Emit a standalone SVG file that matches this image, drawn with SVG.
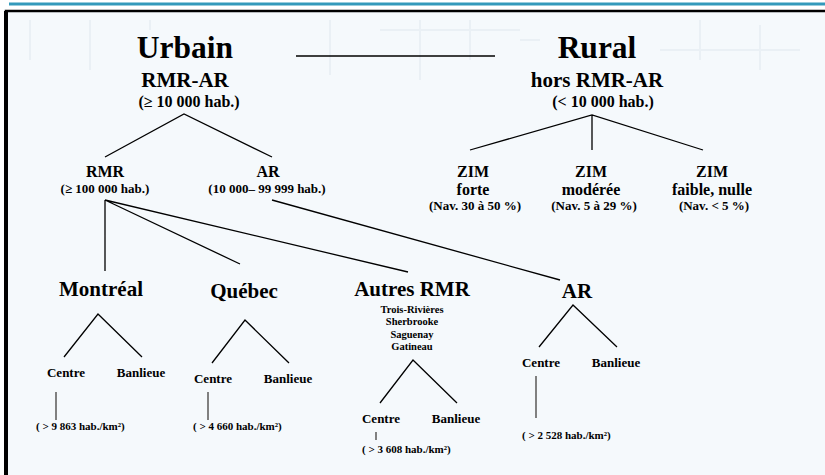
<svg xmlns="http://www.w3.org/2000/svg" width="825" height="475" viewBox="0 0 825 475">
<style>
text{font-family:"Liberation Serif","Times New Roman",serif;font-weight:bold;fill:#000;text-anchor:middle}
.t1{font-size:31.5px}
.t2{font-size:21px}
.t3{font-size:16px}
.t4{font-size:13px}
.t5{font-size:11px}
.t6{font-size:10.5px}
.st{text-anchor:start}
.ln{stroke:#000;stroke-width:1.3;fill:none}
.gr{stroke:#808080;stroke-width:2;fill:none}
</style>
<rect x="0" y="0" width="825" height="475" fill="#ffffff"/>
<rect x="6" y="11" width="819" height="464" fill="#f5f9fc"/>
<g id="bgdeco" stroke="#eaf0f5" stroke-width="2" fill="none">
<path d="M30 20 V60 M90 20 V70 M150 20 V30 M330 20 V75 M380 30 H520 M420 20 V80 M470 20 V60 M520 40 H540 M700 20 V60 M760 25 V70 M660 50 H800"/>
</g>
<line x1="9" y1="4" x2="825" y2="4" stroke="#3399bb" stroke-width="3"/>
<path d="M6 475 V11 H825" stroke="#000" stroke-width="2.5" fill="none"/>
<line x1="6" y1="11" x2="6" y2="475" stroke="#000" stroke-width="4"/>

<g id="connectors">
<line class="ln" x1="296" y1="56" x2="495" y2="56"/>
<path class="ln" d="M105 157 L184 114 L272 157"/>
<path class="ln" d="M470 150 L592 115 L703 150 M592 115 V150"/>
<path class="ln" d="M105 200 V271 M105 200 L240 264 M105 200 L408 272"/>
<line class="ln" x1="272" y1="200" x2="560" y2="280"/>
<path class="ln" d="M64 357 L98 314 L142 357"/>
<path class="ln" d="M212 363 L245 320 L289 363"/>
<path class="ln" d="M380 403 L413 360 L457 403"/>
<path class="ln" d="M539 347 L573 305 L617 347"/>
<line class="gr" x1="56" y1="392" x2="56" y2="420"/>
<line class="gr" x1="208" y1="392" x2="208" y2="420"/>
<line class="gr" x1="376" y1="432" x2="376" y2="440"/>
<line class="gr" x1="536" y1="376" x2="536" y2="418"/>
</g>

<g id="urbain">
<text class="t1" x="185" y="58">Urbain</text>
<text class="t2" x="185" y="87">RMR-AR</text>
<text class="t3" x="189" y="107">(≥ 10 000 hab.)</text>
</g>
<g id="rural">
<text class="t1" x="597" y="58">Rural</text>
<text class="t2" x="597" y="87">hors RMR-AR</text>
<text class="t3" x="603" y="107">(&lt; 10 000 hab.)</text>
</g>
<g id="rmr">
<text class="t3" x="105" y="177">RMR</text>
<text class="t4" x="105" y="193">(≥ 100 000 hab.)</text>
</g>
<g id="ar">
<text class="t3" x="268" y="177">AR</text>
<text class="t4" x="267" y="193">(10 000– 99 999 hab.)</text>
</g>
<g id="zim-forte">
<text class="t3" x="473" y="177">ZIM</text>
<text class="t3" x="473" y="195">forte</text>
<text class="t4" x="475" y="210">(Nav. 30 à 50 %)</text>
</g>
<g id="zim-moderee">
<text class="t3" x="591" y="177">ZIM</text>
<text class="t3" x="591" y="195">modérée</text>
<text class="t4" x="594" y="210">(Nav. 5 à 29 %)</text>
</g>
<g id="zim-faible">
<text class="t3" x="712" y="177">ZIM</text>
<text class="t3" x="712" y="195">faible, nulle</text>
<text class="t4" x="714" y="210">(Nav. &lt; 5 %)</text>
</g>
<g id="montreal">
<text class="t2" x="101" y="296">Montréal</text>
</g>
<g id="montreal-centre">
<text class="t4" x="66" y="377">Centre</text>
</g>
<g id="montreal-banlieue">
<text class="t4" x="141" y="377">Banlieue</text>
</g>
<g id="montreal-densite">
<text class="t5 st" x="36" y="430">( &gt; 9 863 hab./km²)</text>
</g>
<g id="quebec">
<text class="t2" x="244" y="298">Québec</text>
</g>
<g id="quebec-centre">
<text class="t4" x="213" y="383">Centre</text>
</g>
<g id="quebec-banlieue">
<text class="t4" x="288" y="383">Banlieue</text>
</g>
<g id="quebec-densite">
<text class="t5 st" x="193" y="430">( &gt; 4 660 hab./km²)</text>
</g>
<g id="autres-rmr">
<text class="t2" x="412" y="296">Autres RMR</text>
<text class="t6" x="412" y="313">Trois-Rivières</text>
<text class="t6" x="412" y="325">Sherbrooke</text>
<text class="t6" x="412" y="338">Saguenay</text>
<text class="t6" x="412" y="350">Gatineau</text>
</g>
<g id="autres-centre">
<text class="t4" x="381" y="423">Centre</text>
</g>
<g id="autres-banlieue">
<text class="t4" x="456" y="423">Banlieue</text>
</g>
<g id="autres-densite">
<text class="t5 st" x="362" y="453">( &gt; 3 608 hab./km²)</text>
</g>
<g id="ar-bas">
<text class="t2" x="577" y="298">AR</text>
</g>
<g id="ar-centre">
<text class="t4" x="541" y="367">Centre</text>
</g>
<g id="ar-banlieue">
<text class="t4" x="616" y="367">Banlieue</text>
</g>
<g id="ar-densite">
<text class="t5 st" x="522" y="439">( &gt; 2 528 hab./km²)</text>
</g>
</svg>
